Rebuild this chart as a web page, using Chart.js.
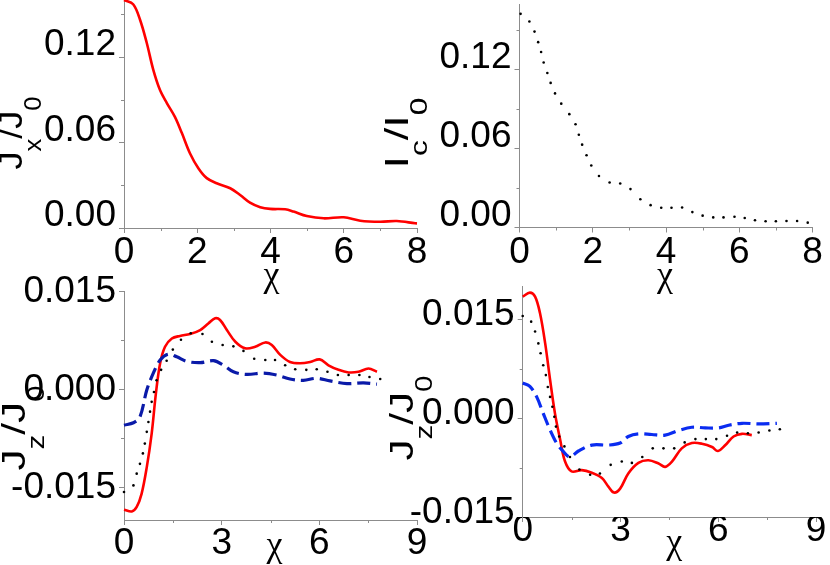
<!DOCTYPE html>
<html><head><meta charset="utf-8">
<script src="https://cdn.jsdelivr.net/npm/chart.js@4.4.0/dist/chart.umd.min.js"></script>
<style>
html,body{margin:0;padding:0;background:#fff;}
#wrap{position:relative;width:830px;height:565px;overflow:hidden;background:#fff;}
canvas{position:absolute;left:0;top:0;}
</style></head><body>
<div id="wrap">
<canvas id="c1" width="830" height="565"></canvas>
<canvas id="c2" width="830" height="565"></canvas>
<canvas id="c3" width="830" height="565"></canvas>
<canvas id="c4" width="830" height="565"></canvas>
</div>
<script>
// ---------- data ----------
const xTicksA = [0, 2, 4, 6, 8];
const xLabelsA = ['0', '2', '4', '6', '8'];
const xMinorA = [1, 3, 5, 7];
const xTicksB = [0, 3, 6, 9];
const xLabelsB = ['0', '3', '6', '9'];
const xMinorB = [1.5, 4.5, 7.5];
const yTicksA = [0, 0.06, 0.12];
const yLabelsA = ['0.00', '0.06', '0.12'];
const yMinorA = [0.03, 0.09, 0.15];
const yTicksB = [-0.015, 0, 0.015];
const yLabelsB = ['-0.015', '0.000', '0.015'];
const yMinorB = [-0.0075, 0.0075];

// panel 1: Jx/J0 (red)
const p1X = [0,0.25,0.44,0.62,0.80,0.98,1.17,1.39,1.58,1.80,2.03,2.26,2.53,2.90,3.17,3.44,3.72,3.99,4.40,4.63,4.99,5.45,6.00,6.45,7.00,7.45,7.95,8.0];
const p1Y = [0.160,0.157,0.146,0.130,0.111,0.097,0.0877,0.078,0.0666,0.0525,0.042,0.035,0.0314,0.0279,0.0232,0.0178,0.0146,0.0134,0.0131,0.0115,0.0084,0.0068,0.0075,0.0051,0.0044,0.0049,0.0033,0.0032];

// panel 2: Ic/I0 (black dots)
const p2X = [0.03,0.27,0.41,0.51,0.59,0.66,0.76,0.85,0.97,1.14,1.36,1.53,1.62,1.71,1.83,1.96,2.17,2.46,2.75,3.03,3.30,3.58,3.87,4.15,4.44,4.72,5.00,5.29,5.57,5.87,6.15,6.43,6.72,7.00,7.29,7.58,7.87];
const p2Y = [0.1625,0.1567,0.149,0.141,0.1335,0.1255,0.1175,0.110,0.102,0.0942,0.0862,0.0785,0.0705,0.063,0.055,0.0472,0.0392,0.0342,0.0335,0.0292,0.0215,0.017,0.015,0.015,0.0152,0.0117,0.009,0.0077,0.0077,0.0082,0.0072,0.0055,0.0047,0.0047,0.005,0.005,0.0037];

// panel 3: -Jz/J0
const p3RedX = [0,0.24,0.39,0.54,0.70,0.85,0.98,1.11,1.26,1.47,1.72,2.03,2.34,2.59,2.80,2.95,3.16,3.42,3.72,4.03,4.34,4.54,4.80,5.10,5.41,5.72,6.01,6.28,6.59,6.90,7.20,7.51,7.77];
const p3RedY = [-0.01842,-0.01869,-0.0180,-0.0160,-0.0119,-0.00676,-0.0006,0.0040,0.00654,0.0078,0.0082,0.0085,0.0091,0.0101,0.0109,0.01064,0.0091,0.0073,0.0063,0.00654,0.0072,0.0068,0.0053,0.0042,0.0040,0.0042,0.0046,0.0037,0.0030,0.0026,0.0027,0.0032,0.0027];
const p3BlueX = [0,0.29,0.49,0.70,0.90,1.11,1.36,1.62,1.93,2.34,2.75,3.06,3.36,3.77,4.28,4.69,5.10,5.51,5.92,6.33,6.85,7.36,7.77];
const p3BlueY = [-0.00548,-0.0051,-0.0042,-0.0001,0.0025,0.0045,0.0054,0.0050,0.0043,0.0041,0.0044,0.0037,0.0027,0.0023,0.0025,0.0022,0.0016,0.0014,0.0017,0.0013,0.0009,0.0010,0.0008];
const p3DotX = [0,0.29,0.39,0.49,0.58,0.64,0.70,0.75,0.80,0.85,0.92,1.00,1.14,1.31,1.50,1.75,2.05,2.41,2.70,3.03,3.36,3.67,4.00,4.34,4.64,4.95,5.26,5.60,5.92,6.25,6.57,6.90,7.23,7.54,7.87];
const p3DotY = [-0.0157,-0.0147,-0.0129,-0.0114,-0.0098,-0.0083,-0.0065,-0.0050,-0.0034,-0.0019,-0.0004,0.0014,0.0030,0.0044,0.0061,0.0076,0.0086,0.0085,0.0073,0.0068,0.0066,0.0059,0.0047,0.0045,0.0045,0.0037,0.0031,0.0030,0.0031,0.0027,0.0022,0.0022,0.0022,0.0019,0.0016];

// panel 4: Jz/J0
const p4RedX = [0,0.22,0.38,0.53,0.69,0.84,0.99,1.15,1.30,1.50,1.81,2.12,2.43,2.63,2.80,2.99,3.24,3.55,3.86,4.17,4.37,4.58,4.88,5.19,5.50,5.81,5.99,6.22,6.47,6.73,7.03];
const p4RedY = [0.01838,0.0190,0.0184,0.0159,0.0113,0.0058,0.0007,-0.0033,-0.0066,-0.0081,-0.0079,-0.0083,-0.0091,-0.0104,-0.0113,-0.0107,-0.0084,-0.0068,-0.0064,-0.0069,-0.0074,-0.0066,-0.0046,-0.0038,-0.0039,-0.0044,-0.0050,-0.0041,-0.0028,-0.0024,-0.0026];
const p4BlueX = [0,0.22,0.43,0.63,0.84,1.04,1.25,1.45,1.71,2.12,2.63,2.99,3.24,3.55,3.96,4.37,4.78,5.19,5.60,6.01,6.32,6.73,7.24,7.80];
const p4BlueY = [0.0053,0.0048,0.0032,0.0007,-0.0018,-0.0038,-0.0051,-0.0059,-0.0050,-0.0041,-0.0041,-0.0038,-0.0028,-0.0024,-0.0025,-0.0026,-0.0019,-0.0014,-0.0015,-0.0015,-0.0011,-0.0008,-0.0009,-0.0008];
const p4DotX = [0,0.26,0.38,0.48,0.55,0.63,0.71,0.77,0.84,0.91,0.97,1.02,1.12,1.28,1.45,1.74,2.07,2.37,2.70,3.04,3.35,3.67,3.99,4.32,4.65,4.97,5.30,5.62,5.94,6.27,6.58,6.91,7.24,7.57,7.89];
const p4DotY = [0.01545,0.0146,0.0131,0.0113,0.0098,0.0080,0.0065,0.0047,0.0032,0.0017,0.0002,-0.0013,-0.0028,-0.0043,-0.0059,-0.0078,-0.0086,-0.0084,-0.0071,-0.0066,-0.0068,-0.0059,-0.0046,-0.0046,-0.0046,-0.0037,-0.0032,-0.0032,-0.0032,-0.0027,-0.0022,-0.0023,-0.0022,-0.0019,-0.0017];

// ---------- helpers ----------
const AXIS = '#8c8c8c';
const FONT = '"Liberation Sans", Arial, sans-serif';
const CHI_FONT = '"Liberation Serif", "DejaVu Serif", serif';
const pts = (xs, ys) => xs.map((x, i) => ({x: x, y: ys[i]}));

const decor = {
  id: 'decor',
  afterDraw(chart, args, o) {
    const ctx = chart.ctx, ca = chart.chartArea;
    const xs = chart.scales.x, ys = chart.scales.y;
    ctx.save();
    ctx.strokeStyle = AXIS; ctx.lineWidth = 1;
    ctx.beginPath();
    o.xMinor.forEach(v => { const px = Math.round(xs.getPixelForValue(v)) + 0.5; ctx.moveTo(px, ca.bottom); ctx.lineTo(px, ca.bottom + 3); });
    o.yMinor.forEach(v => { const py = Math.round(ys.getPixelForValue(v)) + 0.5; ctx.moveTo(ca.left, py); ctx.lineTo(ca.left - 3, py); });
    ctx.stroke();
    // x title
    ctx.fillStyle = '#000';
    ctx.font = '36px ' + CHI_FONT;
    ctx.textAlign = 'center'; ctx.textBaseline = 'alphabetic';
    ctx.fillText('\u03C7', (ca.left + ca.right) / 2 + o.xtDx, ca.bottom + o.xtDy);
    // y title (rotated, with subscripts)
    const t = o.yt;
    ctx.save();
    ctx.translate(ca.left + t.dx, t.cy);
    ctx.rotate(-Math.PI / 2);
    let W = 0;
    t.parts.forEach(p => { ctx.font = (p.sub ? t.subSize : t.size) + 'px ' + FONT; p.w = ctx.measureText(p.t).width; W += p.w; });
    const sx = t.len / W;
    ctx.scale(sx, 1);
    let cx = -W / 2;
    ctx.textAlign = 'left';
    t.parts.forEach(p => {
      ctx.font = (p.sub ? t.subSize : t.size) + 'px ' + FONT;
      ctx.fillText(p.t, cx, p.sub ? t.subDy : 0);
      cx += p.w;
    });
    ctx.restore();
    ctx.restore();
  }
};

function makeChart(id, area, xr, xT, xL, xPad, yr, yT, yL, yLabelOffset, datasets, dec) {
  const tickFont = {family: FONT, size: 37, lineHeight: 1};
  const yW = area[0];          // y scale box spans from canvas left to plot left
  const xH = 565 - area[3];    // x scale box spans from plot bottom to canvas bottom
  return new Chart(document.getElementById(id), {
    type: 'line',
    data: {datasets: datasets},
    plugins: [decor],
    options: {
      responsive: false, animation: false, devicePixelRatio: 1, events: [],
      layout: {padding: {left: 0, top: area[1], right: 830 - area[2], bottom: 0}},
      plugins: {legend: {display: false}, tooltip: {enabled: false}, decor: dec},
      scales: {
        x: {
          type: 'linear', min: xr[0], max: xr[1],
          afterBuildTicks: s => { s.ticks = xT.map(v => ({value: v})); },
          afterFit: s => { s.height = xH; s.paddingLeft = 0; s.paddingRight = 0; s.paddingTop = 0; s.paddingBottom = 0; },
          ticks: {autoSkip: false, maxRotation: 0, minRotation: 0, callback: (v, i) => xL[i], font: tickFont, color: '#000', padding: xPad},
          grid: {drawOnChartArea: false, drawTicks: true, tickLength: 5, color: AXIS, lineWidth: 1},
          border: {display: true, color: AXIS, width: 1}
        },
        y: {
          type: 'linear', min: yr[0], max: yr[1],
          afterBuildTicks: s => { s.ticks = yT.map(v => ({value: v})); },
          afterFit: s => { s.width = yW; s.paddingLeft = 0; s.paddingRight = 0; s.paddingTop = 0; s.paddingBottom = 0; },
          ticks: {autoSkip: false, callback: (v, i) => yL[i], font: tickFont, color: '#000', padding: 3, labelOffset: yLabelOffset},
          grid: {drawOnChartArea: false, drawTicks: true, tickLength: 5, color: AXIS, lineWidth: 1},
          border: {display: true, color: AXIS, width: 1}
        }
      }
    }
  });
}

const red = (xs, ys) => ({data: pts(xs, ys), borderColor: '#ff0000', borderWidth: 2.6, pointRadius: 0, tension: 0.35, fill: false, clip: false});
const blue = (xs, ys, c) => ({data: pts(xs, ys), borderColor: c, borderWidth: 3.2, borderDash: [13, 6], pointRadius: 0, tension: 0.35, fill: false, clip: false});
const dots = (xs, ys) => ({data: pts(xs, ys), showLine: false, pointRadius: 1.3, pointBorderWidth: 0, pointBackgroundColor: '#000', borderColor: '#000', clip: false});

const J = 'J', I = 'I';
makeChart('c1', [124, 0, 417, 228], [0, 8], xTicksA, xLabelsA, 1, [0, 0.16], yTicksA, yLabelsA, -12,
  [red(p1X, p1Y)],
  {xMinor: xMinorA, yMinor: yMinorA, xtDx: 1, xtDy: 58,
   yt: {parts: [{t: J}, {t: 'x', sub: true}, {t: '/'}, {t: J}, {t: '0', sub: true}], dx: -102, cy: 133, len: 73, size: 34, subSize: 24, subDy: 19}});

makeChart('c2', [519.5, 0, 812.5, 227.5], [0, 8], xTicksA, xLabelsA, 1.5, [0, 0.17], yTicksA, yLabelsA, -12,
  [dots(p2X, p2Y)],
  {xMinor: xMinorA, yMinor: yMinorA, xtDx: -1, xtDy: 58.5,
   yt: {parts: [{t: I}, {t: 'c', sub: true}, {t: '/'}, {t: I}, {t: '0', sub: true}], dx: -112, cy: 133, len: 71, size: 34, subSize: 24, subDy: 19}});

makeChart('c3', [124, 291.5, 417, 520], [0, 9], xTicksB, xLabelsB, 0.5, [-0.02, 0.015], yTicksB, yLabelsB, 0,
  [dots(p3DotX, p3DotY), blue(p3BlueX, p3BlueY, '#0a1aa8'), red(p3RedX, p3RedY)],
  {xMinor: xMinorB, yMinor: yMinorB, xtDx: 4, xtDy: 36,
   yt: {parts: [{t: J}, {t: 'z', sub: true}, {t: '/'}, {t: J}, {t: '0', sub: true}], dx: -99, cy: 428, len: 85, size: 34, subSize: 24, subDy: 19}});

makeChart('c4', [522.7, 286, 816, 517], [0, 9], xTicksB, xLabelsB, -10, [-0.015, 0.02], yTicksB, yLabelsB, -4,
  [dots(p4DotX, p4DotY), blue(p4BlueX, p4BlueY, '#0a2cf0'), red(p4RedX, p4RedY)],
  {xMinor: xMinorB, yMinor: yMinorB, xtDx: 5, xtDy: 36,
   yt: {parts: [{t: J}, {t: 'z', sub: true}, {t: '/'}, {t: J}, {t: '0', sub: true}], dx: -110, cy: 418, len: 85, size: 34, subSize: 24, subDy: 19}});
</script>
</body></html>
